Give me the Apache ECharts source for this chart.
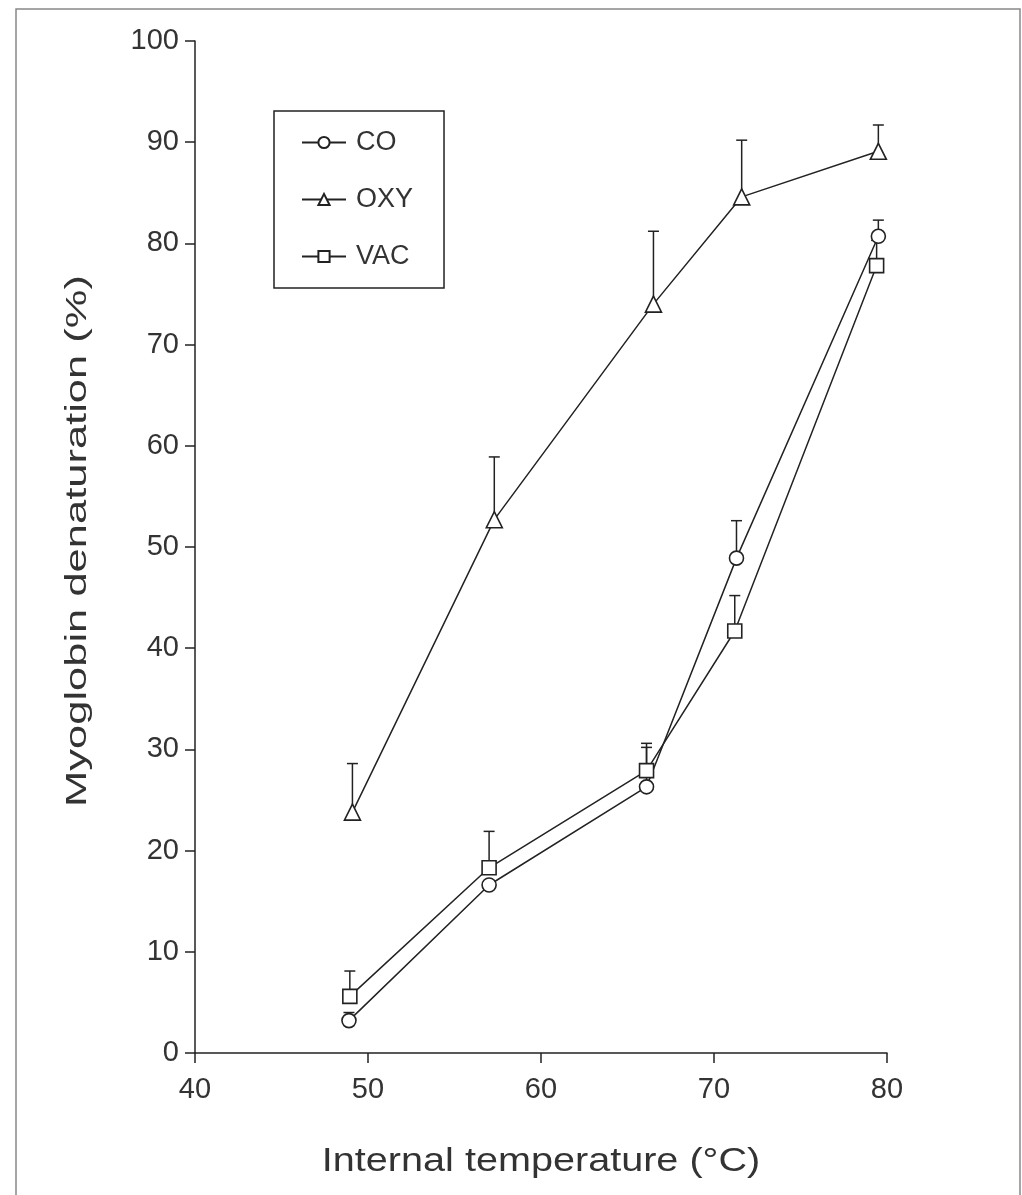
<!DOCTYPE html>
<html>
<head>
<meta charset="utf-8">
<script src="https://cdn.jsdelivr.net/npm/echarts@6/dist/echarts.min.js"></script>
<style>
  html, body { margin: 0; padding: 0; background: #fff; }
  #chart { width: 1022px; height: 1195px; }
</style>
</head>
<body>
<div id="chart"></div>
<script>
// values
var coTemp = [48.9, 57.0, 66.1, 71.3, 79.5];
var coVal = [3.2, 16.6, 26.3, 48.9, 80.7];
var coErr = [0.8, 0, 3.9, 3.7, 1.6];

var oxyTemp = [49.1, 57.3, 66.5, 71.6, 79.5];
var oxyVal = [23.8, 52.7, 74.0, 84.6, 89.1];
var oxyErr = [4.8, 6.2, 7.2, 5.6, 2.6];

var vacTemp = [48.95, 57.0, 66.1, 71.2, 79.4];
var vacVal = [5.6, 18.3, 27.9, 41.7, 77.8];
var vacErr = [2.5, 3.6, 2.7, 3.5, 2.5];

var xTicks = [40, 50, 60, 70, 80];
var yTicks = [0, 10, 20, 30, 40, 50, 60, 70, 80, 90, 100];

var xTitle = 'Internal temperature (°C)';
var yTitle = 'Myoglobin denaturation (%)';

var ink = '#222';
var textInk = '#333';
var font = '"Liberation Sans", Arial, sans-serif';

function pairs(xs, ys) {
  return xs.map(function (x, i) { return [x, ys[i]]; });
}

// upward error bars only
var errData = [];
[[coTemp, coVal, coErr], [oxyTemp, oxyVal, oxyErr], [vacTemp, vacVal, vacErr]].forEach(function (s) {
  s[0].forEach(function (x, i) {
    if (s[2][i] > 0) errData.push([x, s[1][i], s[2][i]]);
  });
});

function lineSeries(name, symbol, size, xs, ys) {
  return {
    name: name,
    type: 'line',
    data: pairs(xs, ys),
    symbol: symbol,
    symbolSize: size,
    showAllSymbol: true,
    z: 3,
    lineStyle: { color: ink, width: 1.5 },
    itemStyle: { color: '#fff', borderColor: ink, borderWidth: 1.6 }
  };
}

var chart = echarts.init(document.getElementById('chart'));
var option = {
  backgroundColor: '#fff',
  animation: false,
  textStyle: { fontFamily: font },
  graphic: [
    {
      type: 'rect',
      shape: { x: 16, y: 9, width: 1004, height: 1300 },
      style: { fill: 'none', stroke: '#888', lineWidth: 1.5 },
      silent: true
    },
    {
      // the scanned titles are stretched along the text
      type: 'text',
      x: 541, y: 1162,
      scaleX: 1.2,
      style: { text: xTitle, font: '33px ' + font, fill: textInk, align: 'center', verticalAlign: 'middle' },
      silent: true
    },
    {
      type: 'text',
      x: 78, y: 541,
      rotation: Math.PI / 2,
      scaleX: 1.5,
      style: { text: yTitle, font: '29px ' + font, fill: textInk, align: 'center', verticalAlign: 'middle' },
      silent: true
    }
  ],
  grid: { left: 195, right: 135, top: 41, bottom: 142 },
  legend: {
    orient: 'vertical',
    left: 274,
    top: 111,
    padding: [18, 31, 18, 27],
    itemGap: 30,
    itemWidth: 44,
    itemHeight: 14,
    borderColor: ink,
    borderWidth: 1.5,
    data: ['CO', 'OXY', 'VAC'],
    textStyle: { fontSize: 27, color: textInk, fontFamily: font, padding: [0, 0, 0, 5] }
  },
  xAxis: {
    type: 'value',
    min: 40,
    max: 80,
    interval: 10,
    axisLine: { lineStyle: { color: ink, width: 1.5 } },
    axisTick: { length: 10, lineStyle: { color: ink, width: 1.5 } },
    axisLabel: {
      fontSize: 29, color: textInk, margin: 22, fontFamily: font,
      formatter: function (v) { return xTicks.indexOf(v) >= 0 ? String(v) : ''; }
    },
    splitLine: { show: false }
  },
  yAxis: {
    type: 'value',
    min: 0,
    max: 100,
    interval: 10,
    axisLine: { show: true, lineStyle: { color: ink, width: 1.5 } },
    axisTick: { show: true, length: 10, lineStyle: { color: ink, width: 1.5 } },
    axisLabel: {
      fontSize: 29, color: textInk, margin: 16, fontFamily: font,
      formatter: function (v) { return yTicks.indexOf(v) >= 0 ? String(v) : ''; }
    },
    splitLine: { show: false }
  },
  series: [
    {
      type: 'custom',
      name: 'err',
      z: 1,
      silent: true,
      data: errData,
      renderItem: function (params, api) {
        var x = api.value(0);
        var y = api.value(1);
        var top = api.coord([x, y + api.value(2)]);
        var base = api.coord([x, y]);
        var half = 5.5;
        var st = { stroke: ink, lineWidth: 1.5 };
        return {
          type: 'group',
          children: [
            { type: 'line', shape: { x1: base[0], y1: base[1], x2: top[0], y2: top[1] }, style: st },
            { type: 'line', shape: { x1: top[0] - half, y1: top[1], x2: top[0] + half, y2: top[1] }, style: st }
          ]
        };
      }
    },
    lineSeries('CO', 'circle', 14, coTemp, coVal),
    lineSeries('OXY', 'triangle', 16, oxyTemp, oxyVal),
    lineSeries('VAC', 'rect', 14, vacTemp, vacVal)
  ]
};
chart.setOption(option);
</script>
</body>
</html>
